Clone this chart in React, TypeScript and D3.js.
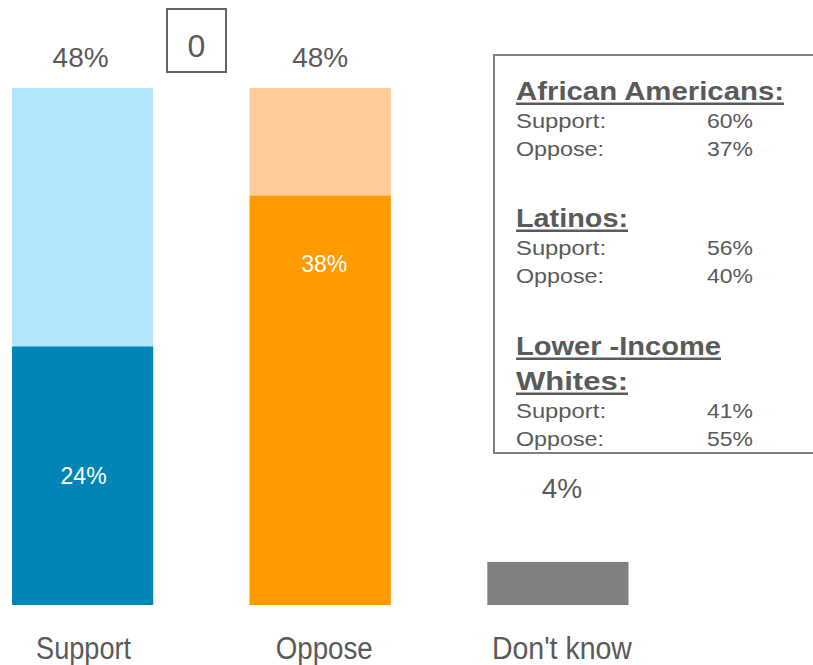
import React from "react";
import * as d3 from "d3";

const categories = ["Support", "Oppose", "Don't know"];
const totalValues = [48, 48, 4];
const innerValues = [24, 38, 0];
const totalLabels = ["48%", "48%", "4%"];
const innerLabels = ["24%", "38%", ""];
const lightColors = ["#B3E5FC", "#FFCC99", "#808080"];
const darkColors = ["#0085B4", "#FF9B00", "#808080"];

const groupNames = [["African Americans:"], ["Latinos:"], ["Lower -Income", "Whites:"]];
const groupSupport = [60, 56, 41];
const groupOppose = [37, 40, 55];

const W = 813;
const H = 665;
const TEXT = "#5a5a5a";
const FONT = "'Liberation Sans', Arial, sans-serif";

export default function App() {
  const x = d3
    .scaleBand<string>()
    .domain(categories)
    .range([12, 628.5])
    .paddingInner(0.406)
    .paddingOuter(0);
  const y = d3.scaleLinear().domain([0, 48]).range([605, 88]);
  const bw = x.bandwidth();

  const bottomWidths = [95, 97, 140];
  const headerWidths: Record<string, number> = {
    "African Americans:": 268,
    "Latinos:": 112,
    "Lower -Income": 205,
    "Whites:": 112,
  };
  const groupTop = [100, 227, 355];

  return (
    <svg
      width={W}
      height={H}
      style={{ position: "absolute", left: 0, top: 0, background: "#fff" }}
      fontFamily={FONT}
    >
      {categories.map((c, i) => {
        const x0 = x(c)!;
        const cx = x0 + bw / 2;
        return (
          <g key={c}>
            <rect
              x={x0}
              y={y(totalValues[i])}
              width={bw}
              height={y(0) - y(totalValues[i])}
              fill={lightColors[i]}
            />
            {innerValues[i] > 0 && (
              <rect
                x={x0}
                y={y(innerValues[i])}
                width={bw}
                height={y(0) - y(innerValues[i])}
                fill={darkColors[i]}
              />
            )}
            <text
              x={i === 2 ? cx + 4 : cx - (i === 0 ? 2 : 0)}
              y={i === 2 ? 498 : 67}
              textAnchor="middle"
              fontSize={28}
              fill={TEXT}
            >
              {totalLabels[i]}
            </text>
            {innerLabels[i] && (
              <text
                x={cx + (i === 1 ? 4 : 1)}
                y={i === 0 ? 484 : 272}
                textAnchor="middle"
                fontSize={23}
                fill="#ffffff"
              >
                {innerLabels[i]}
              </text>
            )}
            <text
              x={cx + (i === 0 ? 1 : 4)}
              y={659}
              textAnchor="middle"
              fontSize={31}
              fill={TEXT}
              textLength={bottomWidths[i]}
              lengthAdjust="spacingAndGlyphs"
            >
              {c}
            </text>
          </g>
        );
      })}

      <rect x={167} y={9} width={59} height={63} fill="none" stroke="#666" strokeWidth={2} />
      <text x={196.5} y={57} textAnchor="middle" fontSize={32} fill={TEXT}>
        0
      </text>

      <rect x={494} y={55} width={340} height={398} fill="#fff" stroke="#808080" strokeWidth={2} />
      {groupNames.map((lines, g) => {
        const base = groupTop[g];
        const rowStart = base + (lines.length - 1) * 35;
        return (
          <g key={g}>
            {lines.map((ln, j) => {
              const by = base + j * 35;
              const w = headerWidths[ln];
              return (
                <g key={ln}>
                  <text
                    x={516}
                    y={by}
                    fontSize={26}
                    fontWeight="bold"
                    fill={TEXT}
                    textLength={w}
                    lengthAdjust="spacingAndGlyphs"
                  >
                    {ln}
                  </text>
                  <rect x={516} y={by + 2.5} width={w} height={2.5} fill={TEXT} />
                </g>
              );
            })}
            <text x={516} y={rowStart + 28} fontSize={21} fill={TEXT} textLength={90} lengthAdjust="spacingAndGlyphs">
              Support:
            </text>
            <text x={707} y={rowStart + 28} fontSize={21} fill={TEXT} textLength={46} lengthAdjust="spacingAndGlyphs">
              {groupSupport[g]}%
            </text>
            <text x={516} y={rowStart + 56} fontSize={21} fill={TEXT} textLength={88} lengthAdjust="spacingAndGlyphs">
              Oppose:
            </text>
            <text x={707} y={rowStart + 56} fontSize={21} fill={TEXT} textLength={46} lengthAdjust="spacingAndGlyphs">
              {groupOppose[g]}%
            </text>
          </g>
        );
      })}
    </svg>
  );
}
